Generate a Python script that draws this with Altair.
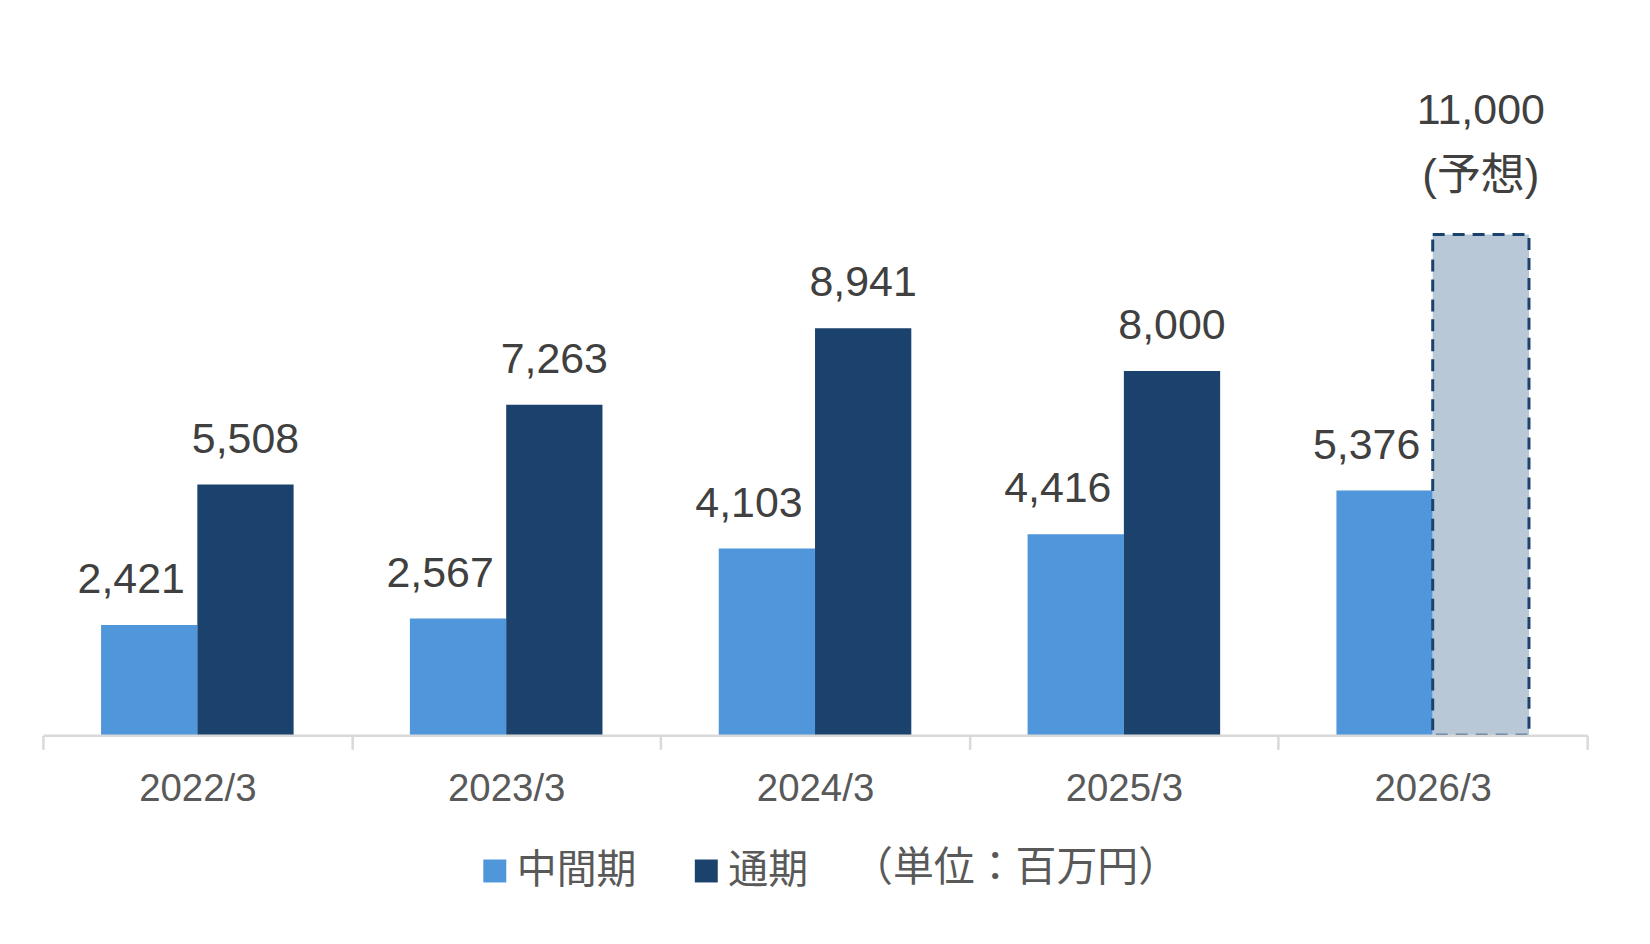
import altair as alt
import pandas as pd

periods = ["2022/3", "2023/3", "2024/3", "2025/3", "2026/3"]
interim = [2421, 2567, 4103, 4416, 5376]
full_year = [5508, 7263, 8941, 8000, 11000]
forecast_flags = [False, False, False, False, True]
series_names = ["中間期", "通期"]
forecast_note = "(予想)"
unit_text = "（単位：百万円）"
colors = ["#4F96DA", "#1A426C"]
forecast_fill = "#B9C8D6"

rows = []
for p, a, b, f in zip(periods, interim, full_year, forecast_flags):
    rows.append({"period": p, "series": series_names[0], "value": a, "forecast": False})
    rows.append({"period": p, "series": series_names[1], "value": b, "forecast": f})
df = pd.DataFrame(rows)

NUM_FONT = "Liberation Sans"
CJK_FONT = "Noto Sans CJK JP"

x_enc = alt.X("period:N", sort=periods, title=None,
              scale=alt.Scale(paddingInner=0, paddingOuter=0),
              axis=alt.Axis(tickBand="extent", labelAngle=0, labelFontSize=38.5,
                            labelFont=NUM_FONT, labelColor="#595959",
                            labelPadding=21, tickSize=14, tickColor="#D9D9D9",
                            tickWidth=2.5, domainColor="#D9D9D9", domainWidth=2.5,
                            zindex=1))
xoff_enc = alt.XOffset("series:N", sort=series_names,
                       scale=alt.Scale(domain=series_names, paddingOuter=0.604, paddingInner=0))
y_enc = alt.Y("value:Q", axis=None, scale=alt.Scale(domain=[0, 14900], nice=False))

base = alt.Chart(df).encode(x=x_enc, xOffset=xoff_enc, y=y_enc)

bars = base.transform_filter("!datum.forecast").mark_bar().encode(
    color=alt.Color("series:N", sort=series_names,
                    scale=alt.Scale(domain=series_names, range=colors),
                    legend=alt.Legend(title=None, orient="none", direction="horizontal",
                                      legendX=433, legendY=796,
                                      symbolType="square", symbolSize=529,
                                      symbolStrokeWidth=0,
                                      labelFont=CJK_FONT, labelFontSize=40,
                                      labelColor="#595959", labelOffset=2,
                                      columnPadding=50, padding=0))
)

fc_bar = base.transform_filter("datum.forecast").mark_bar(
    fill=forecast_fill, stroke="#1A426C", strokeWidth=3, strokeDash=[12, 8]
)

lbl_common = dict(font=NUM_FONT, fontSize=43, color="#404040", baseline="alphabetic", align="center")

lbl_interim = base.transform_filter(alt.datum.series == series_names[0]).mark_text(
    dx=-18, dy=-32, **lbl_common
).encode(text=alt.Text("value:Q", format=","))

lbl_full = base.transform_filter(
    (alt.datum.series == series_names[1]) & (~alt.datum.forecast)
).mark_text(dy=-32, **lbl_common).encode(text=alt.Text("value:Q", format=","))

lbl_fc = base.transform_filter("datum.forecast").mark_text(
    dy=-111, **lbl_common
).encode(text=alt.Text("value:Q", format=","))

lbl_fc_note = base.transform_filter("datum.forecast").mark_text(
    dy=-58, font=NUM_FONT + ", " + CJK_FONT, fontSize=44, color="#404040",
    baseline="middle", align="center"
).encode(text=alt.value(forecast_note))

unit = alt.Chart(pd.DataFrame({"t": [unit_text]})).mark_text(
    font=CJK_FONT, fontSize=41, color="#595959", baseline="middle", align="center"
).encode(text="t:N", x=alt.value(975), y=alt.value(814))

chart = alt.layer(bars, fc_bar, lbl_interim, lbl_full, lbl_fc, lbl_fc_note, unit).properties(
    width=1548, height=680,
    padding={"left": 33, "top": 48, "right": 53, "bottom": 10},
    background="white",
).configure_view(stroke=None)

chart.save("out.html", embed_options={"renderer": "svg", "actions": False})
